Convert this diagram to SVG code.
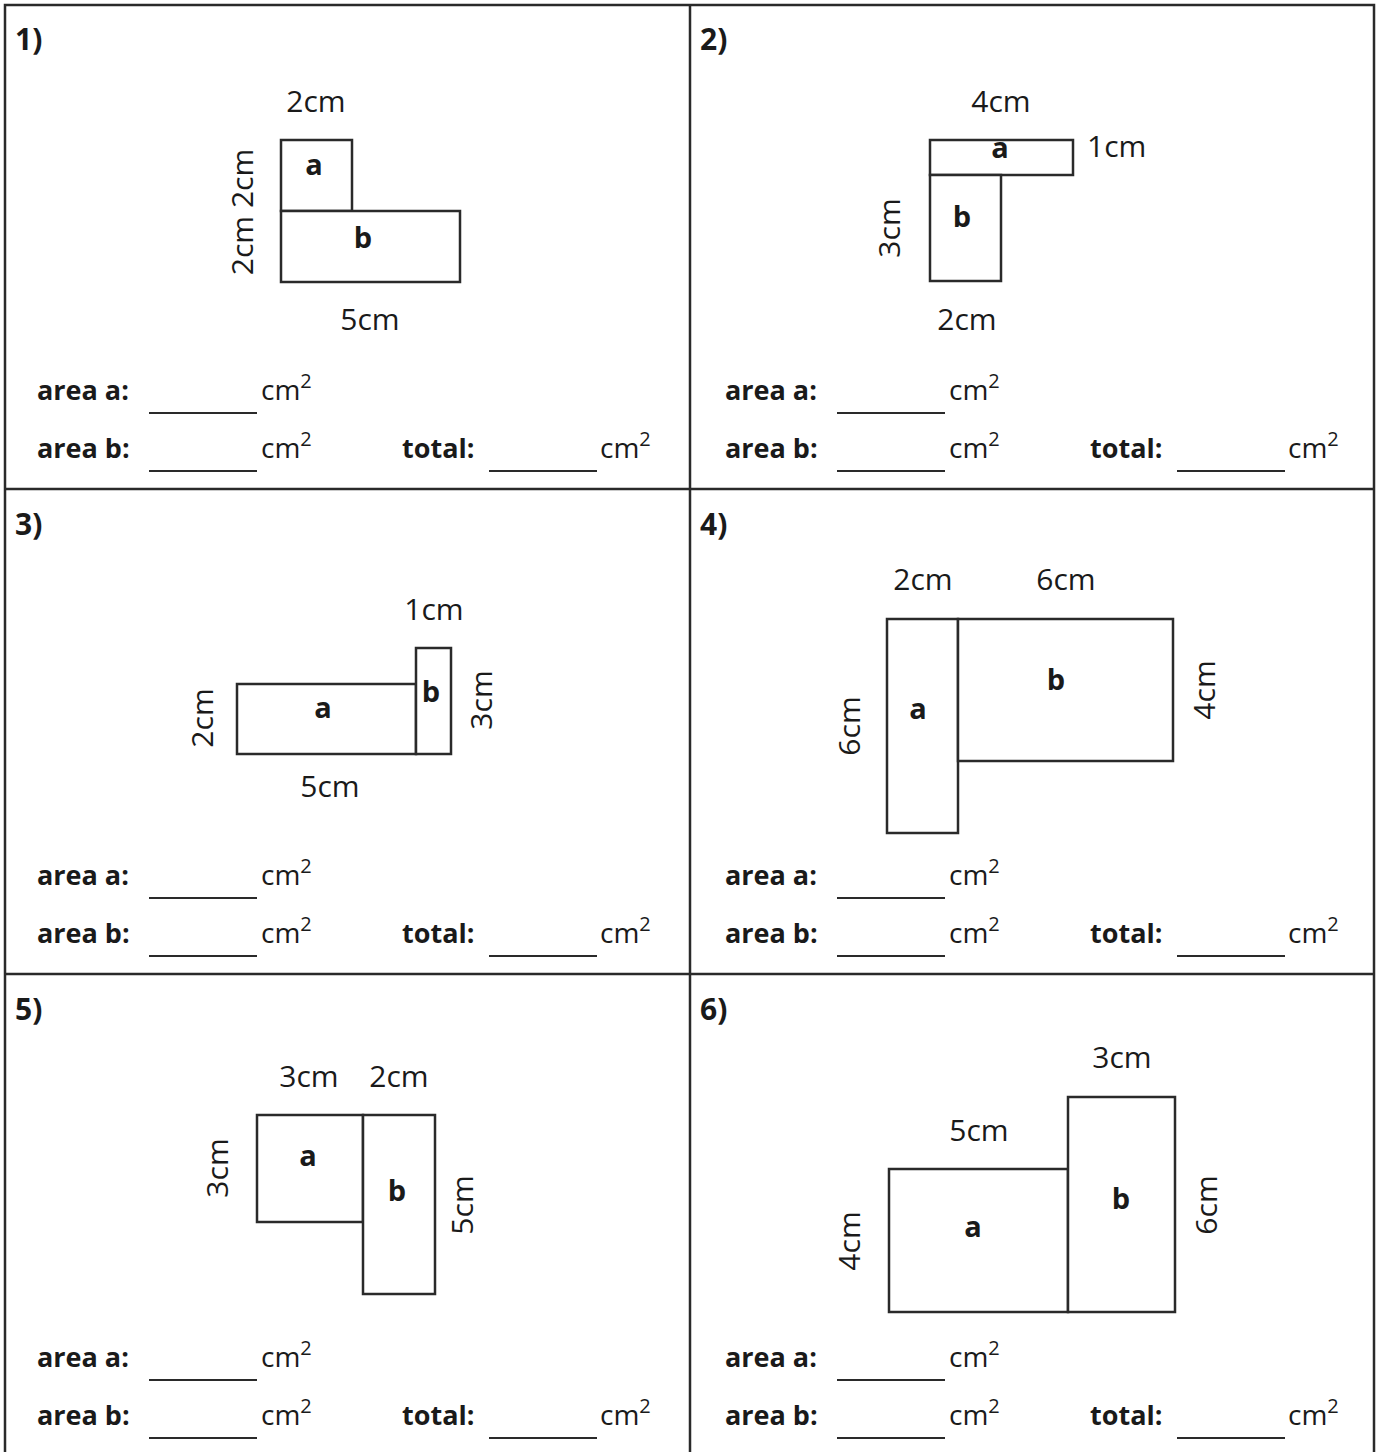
<svg xmlns="http://www.w3.org/2000/svg" width="1381" height="1452" viewBox="0 0 1381 1452">
<style>
.grid{fill:none;stroke:#2a2a2a;stroke-width:2.5}
.shape{fill:#fff;stroke:#2a2a2a;stroke-width:2.5}
.ul{stroke:#2a2a2a;stroke-width:2}
text{font-family:"Open Sans","Noto Sans","Liberation Sans",sans-serif;fill:#1a1a1a}
.num{font-size:30px}
.mid{text-anchor:middle}
.lbl{font-size:29px;font-weight:bold;text-anchor:middle}
.q{font-size:30px;font-weight:bold}
.ans{font-size:27px;font-weight:bold}
.cm{font-size:28px}
.sup{font-size:20px}
</style>
<rect width="1381" height="1452" fill="#fff"/>
<g id="grid">
<rect class="grid" x="5" y="5" width="1369" height="1455"/>
<line class="grid" x1="690" y1="5" x2="690" y2="1452"/>
<line class="grid" x1="5" y1="489" x2="1374" y2="489"/>
<line class="grid" x1="5" y1="974" x2="1374" y2="974"/>
</g>

<g id="panel1">
<text class="q" x="15" y="50">1)</text>
<rect class="shape" x="281" y="140" width="71" height="71"/>
<rect class="shape" x="281" y="211" width="179" height="71"/>
<text class="num mid" x="316" y="112">2cm</text>
<text class="num mid" transform="translate(243,212) rotate(-90)" y="10">2cm 2cm</text>
<text class="num mid" x="370" y="330">5cm</text>
<text class="lbl" x="314" y="175">a</text>
<text class="lbl" x="363" y="248">b</text>
</g>

<g id="panel2">
<text class="q" x="700" y="50">2)</text>
<rect class="shape" x="930" y="140" width="143" height="35"/>
<rect class="shape" x="930" y="175" width="71" height="106"/>
<text class="num mid" x="1001" y="112">4cm</text>
<text class="num" x="1087" y="157">1cm</text>
<text class="num mid" transform="translate(890,228) rotate(-90)" y="10">3cm</text>
<text class="num mid" x="967" y="330">2cm</text>
<text class="lbl" x="1000" y="158">a</text>
<text class="lbl" x="962" y="227">b</text>
</g>

<g id="panel3">
<text class="q" x="15" y="535">3)</text>
<rect class="shape" x="237" y="684" width="179" height="70"/>
<rect class="shape" x="416" y="648" width="35" height="106"/>
<text class="num mid" x="434" y="620">1cm</text>
<text class="num mid" transform="translate(203,718) rotate(-90)" y="10">2cm</text>
<text class="num mid" transform="translate(482,700) rotate(-90)" y="10">3cm</text>
<text class="num mid" x="330" y="797">5cm</text>
<text class="lbl" x="323" y="718">a</text>
<text class="lbl" x="431" y="702">b</text>
</g>

<g id="panel4">
<text class="q" x="700" y="535">4)</text>
<rect class="shape" x="887" y="619" width="71" height="214"/>
<rect class="shape" x="958" y="619" width="215" height="142"/>
<text class="num mid" x="923" y="590">2cm</text>
<text class="num mid" x="1066" y="590">6cm</text>
<text class="num mid" transform="translate(850,726) rotate(-90)" y="10">6cm</text>
<text class="num mid" transform="translate(1205,690) rotate(-90)" y="10">4cm</text>
<text class="lbl" x="918" y="719">a</text>
<text class="lbl" x="1056" y="690">b</text>
</g>

<g id="panel5">
<text class="q" x="15" y="1020">5)</text>
<rect class="shape" x="257" y="1115" width="106" height="107"/>
<rect class="shape" x="363" y="1115" width="72" height="179"/>
<text class="num mid" x="309" y="1087">3cm</text>
<text class="num mid" x="399" y="1087">2cm</text>
<text class="num mid" transform="translate(218,1168) rotate(-90)" y="10">3cm</text>
<text class="num mid" transform="translate(463,1205) rotate(-90)" y="10">5cm</text>
<text class="lbl" x="308" y="1166">a</text>
<text class="lbl" x="397" y="1201">b</text>
</g>

<g id="panel6">
<text class="q" x="700" y="1020">6)</text>
<rect class="shape" x="889" y="1169" width="179" height="143"/>
<rect class="shape" x="1068" y="1097" width="107" height="215"/>
<text class="num mid" x="1122" y="1068">3cm</text>
<text class="num mid" x="979" y="1141">5cm</text>
<text class="num mid" transform="translate(850,1241) rotate(-90)" y="10">4cm</text>
<text class="num mid" transform="translate(1207,1205) rotate(-90)" y="10">6cm</text>
<text class="lbl" x="973" y="1237">a</text>
<text class="lbl" x="1121" y="1209">b</text>
</g>

<g id="answers1">
<text class="ans" x="37" y="400">area a:</text>
<line class="ul" x1="149" y1="413" x2="257" y2="413"/>
<text class="cm" x="261" y="400">cm<tspan class="sup" dy="-12">2</tspan></text>
<text class="ans" x="37" y="458">area b:</text>
<line class="ul" x1="149" y1="471" x2="257" y2="471"/>
<text class="cm" x="261" y="458">cm<tspan class="sup" dy="-12">2</tspan></text>
<text class="ans" x="402" y="458">total:</text>
<line class="ul" x1="489" y1="471" x2="597" y2="471"/>
<text class="cm" x="600" y="458">cm<tspan class="sup" dy="-12">2</tspan></text>
</g>
<g id="answers2">
<text class="ans" x="725" y="400">area a:</text>
<line class="ul" x1="837" y1="413" x2="945" y2="413"/>
<text class="cm" x="949" y="400">cm<tspan class="sup" dy="-12">2</tspan></text>
<text class="ans" x="725" y="458">area b:</text>
<line class="ul" x1="837" y1="471" x2="945" y2="471"/>
<text class="cm" x="949" y="458">cm<tspan class="sup" dy="-12">2</tspan></text>
<text class="ans" x="1090" y="458">total:</text>
<line class="ul" x1="1177" y1="471" x2="1285" y2="471"/>
<text class="cm" x="1288" y="458">cm<tspan class="sup" dy="-12">2</tspan></text>
</g>
<g id="answers3">
<text class="ans" x="37" y="885">area a:</text>
<line class="ul" x1="149" y1="898" x2="257" y2="898"/>
<text class="cm" x="261" y="885">cm<tspan class="sup" dy="-12">2</tspan></text>
<text class="ans" x="37" y="943">area b:</text>
<line class="ul" x1="149" y1="956" x2="257" y2="956"/>
<text class="cm" x="261" y="943">cm<tspan class="sup" dy="-12">2</tspan></text>
<text class="ans" x="402" y="943">total:</text>
<line class="ul" x1="489" y1="956" x2="597" y2="956"/>
<text class="cm" x="600" y="943">cm<tspan class="sup" dy="-12">2</tspan></text>
</g>
<g id="answers4">
<text class="ans" x="725" y="885">area a:</text>
<line class="ul" x1="837" y1="898" x2="945" y2="898"/>
<text class="cm" x="949" y="885">cm<tspan class="sup" dy="-12">2</tspan></text>
<text class="ans" x="725" y="943">area b:</text>
<line class="ul" x1="837" y1="956" x2="945" y2="956"/>
<text class="cm" x="949" y="943">cm<tspan class="sup" dy="-12">2</tspan></text>
<text class="ans" x="1090" y="943">total:</text>
<line class="ul" x1="1177" y1="956" x2="1285" y2="956"/>
<text class="cm" x="1288" y="943">cm<tspan class="sup" dy="-12">2</tspan></text>
</g>
<g id="answers5">
<text class="ans" x="37" y="1367">area a:</text>
<line class="ul" x1="149" y1="1380" x2="257" y2="1380"/>
<text class="cm" x="261" y="1367">cm<tspan class="sup" dy="-12">2</tspan></text>
<text class="ans" x="37" y="1425">area b:</text>
<line class="ul" x1="149" y1="1438" x2="257" y2="1438"/>
<text class="cm" x="261" y="1425">cm<tspan class="sup" dy="-12">2</tspan></text>
<text class="ans" x="402" y="1425">total:</text>
<line class="ul" x1="489" y1="1438" x2="597" y2="1438"/>
<text class="cm" x="600" y="1425">cm<tspan class="sup" dy="-12">2</tspan></text>
</g>
<g id="answers6">
<text class="ans" x="725" y="1367">area a:</text>
<line class="ul" x1="837" y1="1380" x2="945" y2="1380"/>
<text class="cm" x="949" y="1367">cm<tspan class="sup" dy="-12">2</tspan></text>
<text class="ans" x="725" y="1425">area b:</text>
<line class="ul" x1="837" y1="1438" x2="945" y2="1438"/>
<text class="cm" x="949" y="1425">cm<tspan class="sup" dy="-12">2</tspan></text>
<text class="ans" x="1090" y="1425">total:</text>
<line class="ul" x1="1177" y1="1438" x2="1285" y2="1438"/>
<text class="cm" x="1288" y="1425">cm<tspan class="sup" dy="-12">2</tspan></text>
</g>
</svg>
